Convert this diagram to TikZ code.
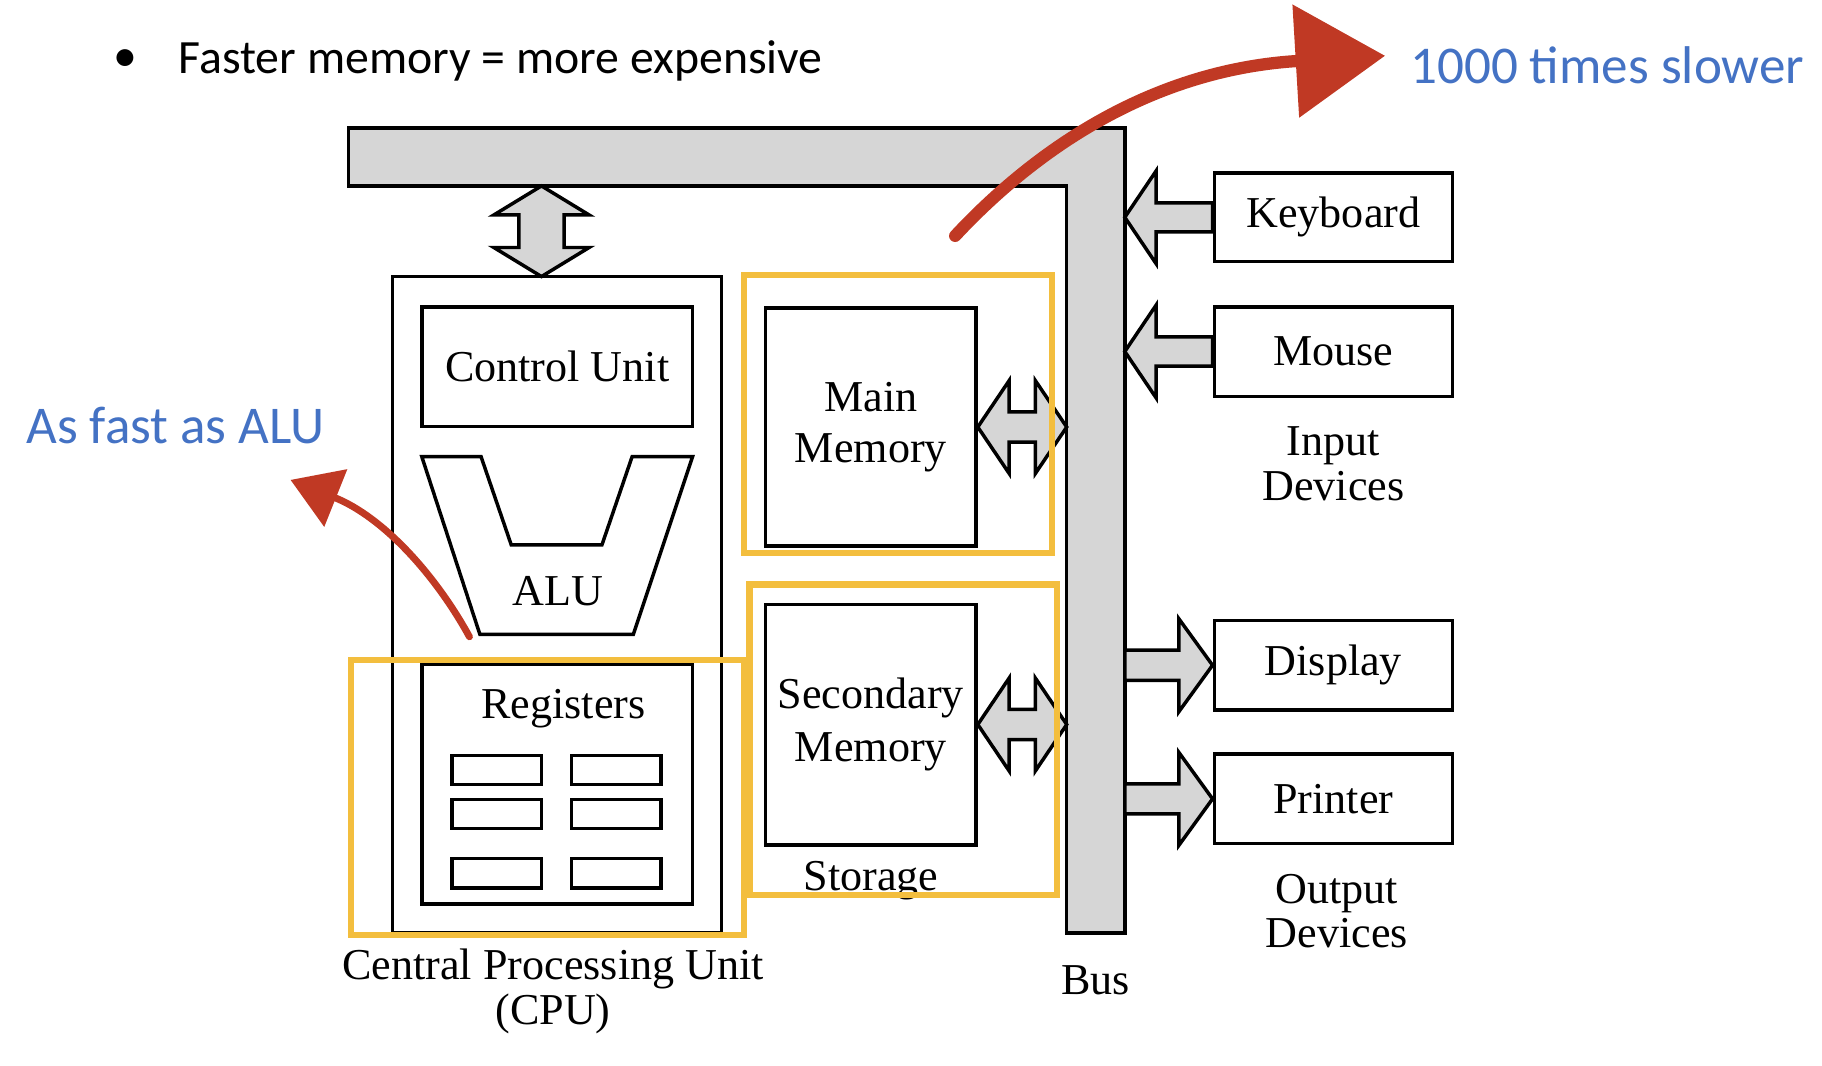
\documentclass[tikz,border=0pt]{standalone}
\usepackage{fontspec}
\setmainfont{Liberation Serif}
\newfontfamily\calibri{Carlito}
\usetikzlibrary{calc, positioning, arrows.meta}
\definecolor{colBus}{RGB}{214,214,214}
\definecolor{colHilite}{RGB}{243,190,62}
\definecolor{colNote}{RGB}{68,114,196}
\definecolor{colPen}{RGB}{192,57,36}
\newcommand{\diagfont}{\fontsize{10.8}{12.5}\selectfont}
\newcommand{\notefont}{\calibri\fontsize{13}{15}\selectfont}
\newcommand{\bulletfont}{\calibri\fontsize{11.7}{14}\selectfont}
\tikzset{
    unit/.style={rectangle, draw, line width=0.85pt, inner sep=0pt, align=center, font=\diagfont},
    cell/.style={rectangle, draw, line width=0.85pt, minimum width=7.7mm, minimum height=2.5mm},
    blockarrow/.style={draw, line width=0.85pt, fill=colBus, line join=miter},
    caption/.style={inner sep=0pt, align=center, font=\diagfont},
    hilite/.style={draw=colHilite, line width=1.5pt},
    note/.style={inner sep=0pt, text=colNote, font=\notefont},
    pen/.style={draw=colPen, line cap=round}
}
% block arrows between the bus and the units
\newcommand{\hdarrow}[2]{\draw[blockarrow] (#1) -- ++(27,-40) -- ++(0,27) -- ($(#2)+(-27,-13)$) -- ++(0,-27) -- (#2) -- ++(-27,40) -- ++(0,-27) -- ($(#1)+(27,13)$) -- ++(0,27) -- cycle;}
\newcommand{\vdarrow}[2]{\draw[blockarrow] (#1) -- ++(41,25) -- ++(-21.5,0) -- ($(#2)+(19.5,-25)$) -- ++(21.5,0) -- (#2) -- ++(-41,-25) -- ++(21.5,0) -- ($(#1)+(-19.5,25)$) -- ++(-21.5,0) -- cycle;}
\newcommand{\larrow}[2]{\draw[blockarrow] (#1) -- ++(27,-40) -- ++(0,27.5) -- ($(#2)+(0,-12.5)$) -- ($(#2)+(0,12.5)$) -- ($(#1)+(27,12.5)$) -- ++(0,27.5) -- cycle;}
\newcommand{\rarrow}[2]{\draw[blockarrow] ($(#1)+(0,-13)$) -- ($(#2)+(-29,-13)$) -- ++(0,-27) -- (#2) -- ++(-29,40) -- ++(0,-27) -- ($(#1)+(0,13)$) -- cycle;}

\begin{document}
\begin{tikzpicture}[x=0.1mm, y=-0.1mm]
    \useasboundingbox (0,0) rectangle (1568,917);

    \node[inner sep=0pt, anchor=west, font=\bulletfont] (dot) at (97,52) {•};
    \node[inner sep=0pt, anchor=west, font=\bulletfont] (cost) at (153,52) {Faster memory = more expensive};

    % bus
    \draw[blockarrow] (300,110) -- (968,110) -- (968,803) -- (918,803) -- (918,160) -- (300,160) -- cycle;
    \coordinate (busL) at (918,0);
    \coordinate (busR) at (968,0);
    \coordinate (busB) at (0,160);
    \coordinate (busfoot) at (943,803);
    \node[caption, below=2.7mm of busfoot] (buslbl) {Bus};

    % CPU
    \node[unit, minimum width=28.3mm, minimum height=56.5mm] (cpu) at (479.5,520.5) {};
    \node[caption, below=1.1mm of cpu, xshift=-0.35mm, font=\fontsize{10.8}{11.1}\selectfont] (cpulbl) {Central Processing Unit\\(CPU)};
    \node[unit, minimum width=23.3mm, minimum height=10.3mm] (ctrl) at (479.5,315.5) {Control Unit};
    \draw[line width=0.85pt] (363,393) -- (414,393) -- (440,469) -- (518,469) -- (544,393) -- (596,393) -- (545,546) -- (413,546) -- cycle;
    \node[caption] (alu) at (480,509) {ALU};
    \node[unit, minimum width=23.3mm, minimum height=20.6mm] (regs) at (479.5,675) {};
    \node[caption] (regslbl) at (485,610) {Registers};
    \foreach \cx [count=\i] in {427.5,530.5}
        \foreach \cy [count=\j] in {662.5,700.5,751.5}
            \node[cell] (reg\i\j) at (\cx,\cy) {};
    \coordinate (cpuin) at (466,238);

    % memory
    \node[unit, minimum width=18.1mm, minimum height=20.5mm] (mainmem) at (749.5,367.5) {Main\\Memory};
    \node[unit, minimum width=18.1mm, minimum height=20.7mm, font=\fontsize{10.8}{12.8}\selectfont] (secmem) at (749.5,623.5) {Secondary\\Memory};
    \node[caption, below=1.2mm of secmem] (storage) {Storage};

    % devices
    \node[unit, minimum width=20.5mm, minimum height=7.6mm] (kbd) at (1147.5,187) {Keyboard};
    \node[unit, minimum width=20.5mm, minimum height=7.7mm] (mouse) at (1147.5,302.5) {Mouse};
    \node[caption, below=2.4mm of mouse, font=\fontsize{10.8}{10.9}\selectfont] (inlbl) {Input\\Devices};
    \node[unit, minimum width=20.5mm, minimum height=7.7mm] (disp) at (1147.5,572.5) {Display};
    \node[unit, minimum width=20.5mm, minimum height=7.7mm] (prn) at (1147.5,687.5) {Printer};
    \node[caption, below=2.4mm of prn, font=\fontsize{10.8}{10.9}\selectfont, xshift=0.3mm] (outlbl) {Output\\Devices};

    % connectors
    \vdarrow{cpuin |- busB}{cpuin}
    \hdarrow{mainmem.east}{mainmem.east -| busL}
    \hdarrow{secmem.east}{secmem.east -| busL}
    \larrow{kbd.west -| busR}{kbd.west}
    \larrow{mouse.west -| busR}{mouse.west}
    \rarrow{disp.west -| busR}{disp.west}
    \rarrow{prn.west -| busR}{prn.west}

    % highlights
    \draw[hilite] (640,237) rectangle (905,476);
    \draw[hilite] (645,503) rectangle (910,770);
    \draw[hilite] (302,568) rectangle (640,805);

    % notes
    \node[note, anchor=west] (slow) at (1213,56) {1000 times slower};
    \node[note, anchor=west] (fast) at (22,366) {As fast as ALU};
    \coordinate (slowfrom) at (822,203);
    \coordinate (fastfrom) at (404,548);
    \coordinate (fasttip) at (250,413);
    \draw[pen, line width=3pt, -{Triangle[length=7.7mm, width=9.5mm]}] (slowfrom) .. controls (890,130) and (990,60) .. ($(slow.west)+(-21,-8)$);
    \draw[pen, line width=1.7pt, -{Triangle[length=4.2mm, width=5.2mm]}] (fastfrom) .. controls (375,495) and (330,445) .. (fasttip);

\end{tikzpicture}
\end{document}
